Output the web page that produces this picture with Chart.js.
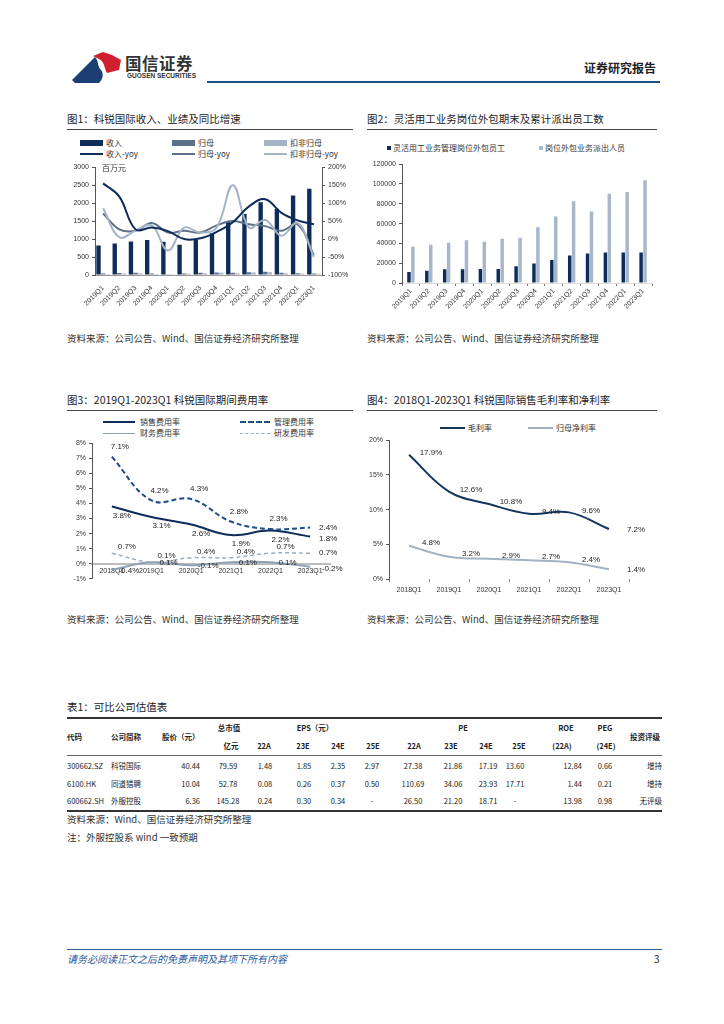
<!DOCTYPE html>
<html>
<head>
<meta charset="utf-8">
<script src="https://cdn.jsdelivr.net/npm/chart.js@4.4.1/dist/chart.umd.min.js"></script>
<style>
  body { margin: 0; width: 724px; height: 1024px; position: relative; background: #fff; overflow: hidden;
         font-family: "Noto Sans CJK SC", "Liberation Sans", sans-serif; color: #222; }
  .t { position: absolute; white-space: nowrap; line-height: 12px; }
  .title { font-size: 10.5px; }
  .src { font-size: 9.5px; color: #333; }
  .lg { font-size: 8px; color: #333; }
  .rule { position: absolute; height: 1px; background: #444; }
  .sw { position: absolute; }
  canvas { position: absolute; }
  .cell { position: absolute; width: 100px; line-height: 12px; font-size: 7.5px; white-space: nowrap; color: #222; }
  .hd { font-weight: bold; font-size: 7.5px; }
</style>
</head>
<body>

<!-- header -->
<svg class="sw" style="left:66px;top:48px" width="60" height="40" viewBox="66 48 60 40">
  <path d="M72,80 L95,57 C99,61 97,66 101,70 C104,74 103,79 99,83 L75,83 Z" fill="#1b3f73"/>
  <path d="M93,56 L103,52 L112,55 L121,60 L119,70 L107,73 C104,68 105,62 99,59 Z" fill="#d0202e"/>
</svg>
<div class="t" style="left:125px;top:54px;font-size:16.5px;line-height:18px;font-weight:bold;color:#333;letter-spacing:0.5px">国信证券</div>
<div class="t" style="left:127px;top:72px;font-size:6.5px;line-height:8px;font-weight:bold;color:#333;font-family:'Liberation Sans',sans-serif">GUOSEN SECURITIES</div>
<div class="rule" style="left:207px;top:81px;width:453px;height:2px;background:#1f4e8c"></div>
<div class="t" style="left:584px;top:61px;font-size:12px;line-height:14px;font-weight:bold;color:#222">证券研究报告</div>

<!-- chart 1 -->
<div class="t title" style="left:67px;top:113px">图1：科锐国际收入、业绩及同比增速</div>
<div class="rule" style="left:67px;top:129px;width:286px"></div>
<div class="sw" style="left:80px;top:140px;width:23px;height:6px;background:#0d2c5a"></div>
<div class="t lg" style="left:106px;top:137px">收入</div>
<div class="sw" style="left:172px;top:140px;width:23px;height:6px;background:#5c7089"></div>
<div class="t lg" style="left:198px;top:137px">归母</div>
<div class="sw" style="left:264px;top:140px;width:23px;height:6px;background:#a4b4c6"></div>
<div class="t lg" style="left:290px;top:137px">扣非归母</div>
<div class="sw" style="left:80px;top:153px;width:23px;height:2px;background:#0d2c5a"></div>
<div class="t lg" style="left:106px;top:148px">收入-yoy</div>
<div class="sw" style="left:172px;top:153px;width:23px;height:2px;background:#5c7089"></div>
<div class="t lg" style="left:198px;top:148px">归母-yoy</div>
<div class="sw" style="left:264px;top:153px;width:23px;height:2px;background:#a4b4c6"></div>
<div class="t lg" style="left:290px;top:148px">扣非归母-yoy</div>
<canvas id="c1" width="300" height="150" style="left:60px;top:160px"></canvas>
<div class="t lg" style="left:102px;top:162px">百万元</div>
<div class="t src" style="left:67px;top:332px">资料来源：公司公告、Wind、国信证券经济研究所整理</div>

<!-- chart 2 -->
<div class="t title" style="left:367px;top:113px">图2：灵活用工业务岗位外包期末及累计派出员工数</div>
<div class="rule" style="left:367px;top:129px;width:290px"></div>
<div class="sw" style="left:387px;top:146px;width:4px;height:4px;background:#0d2c5a"></div>
<div class="t lg" style="left:393px;top:142px">灵活用工业务管理岗位外包员工</div>
<div class="sw" style="left:539px;top:146px;width:4px;height:4px;background:#a7b6c8"></div>
<div class="t lg" style="left:545px;top:142px">岗位外包业务派出人员</div>
<canvas id="c2" width="310" height="160" style="left:360px;top:157px"></canvas>
<div class="t src" style="left:367px;top:332px">资料来源：公司公告、Wind、国信证券经济研究所整理</div>

<!-- chart 3 -->
<div class="t title" style="left:67px;top:394px">图3：2019Q1-2023Q1 科锐国际期间费用率</div>
<div class="rule" style="left:67px;top:410px;width:286px"></div>
<div class="sw" style="left:103px;top:421px;width:32px;height:2px;background:#0d2c5a"></div>
<div class="t lg" style="left:140px;top:416px">销售费用率</div>
<div class="sw" style="left:240px;top:421px;width:30px;height:0;border-top:2px dashed #1f4a8c"></div>
<div class="t lg" style="left:274px;top:416px">管理费用率</div>
<div class="sw" style="left:103px;top:433px;width:32px;height:1px;background:#8ea0b5"></div>
<div class="t lg" style="left:140px;top:427px">财务费用率</div>
<div class="sw" style="left:240px;top:433px;width:30px;height:0;border-top:1px dashed #9aabc0"></div>
<div class="t lg" style="left:274px;top:427px">研发费用率</div>
<canvas id="c3" width="300" height="150" style="left:60px;top:436px"></canvas>
<div class="t src" style="left:67px;top:613px">资料来源：公司公告、Wind、国信证券经济研究所整理</div>

<!-- chart 4 -->
<div class="t title" style="left:367px;top:394px">图4：2018Q1-2023Q1 科锐国际销售毛利率和净利率</div>
<div class="rule" style="left:367px;top:410px;width:290px"></div>
<div class="sw" style="left:440px;top:427px;width:25px;height:2px;background:#14365f"></div>
<div class="t lg" style="left:468px;top:422px">毛利率</div>
<div class="sw" style="left:528px;top:427px;width:25px;height:2px;background:#a3b2c2"></div>
<div class="t lg" style="left:556px;top:422px">归母净利率</div>
<canvas id="c4" width="310" height="165" style="left:360px;top:433px"></canvas>
<div class="t src" style="left:367px;top:613px">资料来源：公司公告、Wind、国信证券经济研究所整理</div>

<!-- table -->
<div class="t" style="left:67px;top:701px;font-size:10.5px">表1：可比公司估值表</div>
<div class="rule" style="left:67px;top:717px;width:595px;height:1.5px;background:#333"></div>
<div class="rule" style="left:67px;top:755px;width:595px;background:#666"></div>
<div class="rule" style="left:67px;top:810px;width:595px;height:1.5px;background:#333"></div>
<div id="table"></div>
<div class="t src" style="left:67px;top:813px">资料来源：Wind、国信证券经济研究所整理</div>
<div class="t src" style="left:67px;top:831px">注：外服控股系 wind 一致预期</div>

<!-- footer -->
<div class="rule" style="left:67px;top:949px;width:595px;background:#2e5e95"></div>
<div class="t" style="left:67px;top:953px;font-size:10px;font-style:italic;color:#2a5a9a">请务必阅读正文之后的免责声明及其项下所有内容</div>
<div class="t" style="left:654px;top:953px;font-size:10px;color:#222">3</div>

<script>
// ---- chart 1 data ----
const quarters = ['2019Q1', '2019Q2', '2019Q3', '2019Q4', '2020Q1', '2020Q2', '2020Q3', '2020Q4',
                  '2021Q1', '2021Q2', '2021Q3', '2021Q4', '2022Q1', '2023Q1'];
const revenue = [820, 880, 935, 975, 925, 845, 975, 1165, 1475, 1700, 2025, 1845, 2210, 2400];
const netProfit = [40, 55, 60, 40, 20, 45, 60, 70, 60, 80, 90, 60, 50, 40];
const netProfitAdj = [30, 45, 50, 30, 10, 35, 50, 60, 50, 70, 80, 50, 45, 35];
const revenueYoy = [155, 118, 27, 32, 22, 0, 2, 20, 47, 91, 111, 73, 52, 41];
const netProfitYoy = [71, 27, 23, 45, 18, 23, 18, 38, 50, 41, 36, 23, 41, -45];
const netProfitAdjYoy = [86, 5, 23, 38, -32, 32, 18, 32, 150, 32, 53, 9, 45, -50];

// ---- chart 2 data ----
const mgmtStaff = [11000, 12500, 13800, 13800, 14100, 14100, 17000, 19700, 23300, 27900, 29800, 30800, 30800, 30800];
const dispatched = [36700, 38700, 40700, 43300, 41600, 44600, 45600, 56400, 67200, 82600, 72100, 90200, 91800, 103900];

// ---- chart 3 / 4 data ----
const years = ['2018Q1', '2019Q1', '2020Q1', '2021Q1', '2022Q1', '2023Q1'];
const salesRate = [3.8, 3.1, 2.6, 1.9, 2.2, 1.8];
const adminRate = [7.1, 4.2, 4.3, 2.8, 2.3, 2.4];
const financeRate = [-0.4, 0.1, -0.1, 0.1, 0.1, -0.2];
const rdRate = [0.7, 0.1, 0.4, 0.4, 0.7, 0.7];
const grossMargin = [17.9, 12.6, 10.8, 9.4, 9.6, 7.2];
const netMargin = [4.8, 3.2, 2.9, 2.7, 2.4, 1.4];

const NAVY = '#0d2c5a', MID = '#5c7089', LIGHT = '#a4b4c6';

Chart.defaults.font.family = '"Liberation Sans", "Noto Sans CJK SC", sans-serif';
Chart.defaults.font.size = 7;
Chart.defaults.color = '#333';
Chart.defaults.animation = false;
Chart.defaults.plugins.legend.display = false;
Chart.defaults.plugins.tooltip.enabled = false;

// draws "x.x%" next to each point; the last point gets its own offset (label sits to the right)
const valueLabels = {
    id: 'valueLabels',
    afterDatasetsDraw(chart) {
        const ctx = chart.ctx;
        chart.data.datasets.forEach((ds, i) => {
            if (!ds.showValues) return;
            const meta = chart.getDatasetMeta(i);
            ctx.save();
            ctx.font = '8px "Liberation Sans", sans-serif';
            ctx.fillStyle = '#222';
            ctx.textAlign = 'center';
            ctx.textBaseline = 'middle';
            meta.data.forEach((pt, j) => {
                const last = j === meta.data.length - 1;
                const dx = last && ds.lastDx !== undefined ? ds.lastDx : ds.valueDx;
                const dy = last && ds.lastDy !== undefined ? ds.lastDy : ds.valueDy;
                ctx.fillText(ds.data[j].toFixed(1) + '%', pt.x + dx, pt.y + dy);
            });
            ctx.restore();
        });
    }
};

const axisGrid = { drawOnChartArea: false, drawTicks: true, tickLength: 3, color: '#555' };

new Chart(document.getElementById('c1'), {
    type: 'bar',
    data: {
        labels: quarters,
        datasets: [
            { label: '收入', data: revenue, backgroundColor: NAVY, yAxisID: 'y', order: 2 },
            { label: '归母', data: netProfit, backgroundColor: MID, yAxisID: 'y', order: 2 },
            { label: '扣非归母', data: netProfitAdj, backgroundColor: LIGHT, yAxisID: 'y', order: 2 },
            { type: 'line', label: '扣非归母-yoy', data: netProfitAdjYoy, yAxisID: 'y1', borderColor: LIGHT,
              borderWidth: 2, pointRadius: 0, tension: 0.4, order: 1 },
            { type: 'line', label: '归母-yoy', data: netProfitYoy, yAxisID: 'y1', borderColor: MID,
              borderWidth: 2, pointRadius: 0, tension: 0.4, order: 1 },
            { type: 'line', label: '收入-yoy', data: revenueYoy, yAxisID: 'y1', borderColor: NAVY,
              borderWidth: 2, pointRadius: 0, tension: 0.4, order: 0 }
        ]
    },
    options: {
        responsive: false,
        layout: { padding: { top: 5 } },
        datasets: { bar: { categoryPercentage: 0.85, barPercentage: 0.95 } },
        scales: {
            x: {
                grid: { display: false },
                border: { color: '#999' },
                ticks: { minRotation: 45, maxRotation: 45, autoSkip: false, padding: 1 },
                afterFit(s) { s.height = 35; }
            },
            y: {
                position: 'left', min: 0, max: 3000,
                ticks: { stepSize: 500, padding: 3, callback: v => String(v) },
                grid: axisGrid, border: { color: '#555' },
                afterFit(s) { s.width = 35; }
            },
            y1: {
                position: 'right', min: -100, max: 200,
                ticks: { stepSize: 50, padding: 3, callback: v => v + '%' },
                grid: axisGrid, border: { color: '#555' },
                afterFit(s) { s.width = 38; }
            }
        }
    }
});

new Chart(document.getElementById('c2'), {
    type: 'bar',
    data: {
        labels: quarters,
        datasets: [
            { label: '灵活用工业务管理岗位外包员工', data: mgmtStaff, backgroundColor: NAVY },
            { label: '岗位外包业务派出人员', data: dispatched, backgroundColor: '#a7b6c8' }
        ]
    },
    options: {
        responsive: false,
        layout: { padding: { top: 5, right: 18 } },
        datasets: { bar: { categoryPercentage: 0.44, barPercentage: 0.88 } },
        scales: {
            x: {
                grid: { drawOnChartArea: false, drawTicks: true, tickLength: 3, color: '#777', offset: true },
                border: { color: '#ddd' },
                ticks: { minRotation: 45, maxRotation: 45, autoSkip: false, padding: 1 },
                afterFit(s) { s.height = 34; }
            },
            y: {
                min: 0, max: 120000,
                ticks: { stepSize: 20000, padding: 3, callback: v => String(v) },
                grid: axisGrid, border: { color: '#555' },
                afterFit(s) { s.width = 42; }
            }
        }
    }
});

new Chart(document.getElementById('c3'), {
    type: 'line',
    data: {
        labels: years,
        datasets: [
            { label: '研发费用率', data: rdRate, borderColor: '#9aabc0', borderWidth: 1.5, borderDash: [4, 3],
              showValues: true, valueDx: 15, valueDy: -6, lastDx: 18, lastDy: 0 },
            { label: '财务费用率', data: financeRate, borderColor: '#8ea0b5', borderWidth: 2,
              showValues: true, valueDx: 17, valueDy: 1, lastDx: 22, lastDy: 2 },
            { label: '管理费用率', data: adminRate, borderColor: '#1f4a8c', borderWidth: 2, borderDash: [5, 3],
              showValues: true, valueDx: 8, valueDy: -10, lastDx: 18, lastDy: 0 },
            { label: '销售费用率', data: salesRate, borderColor: NAVY, borderWidth: 2,
              showValues: true, valueDx: 10, valueDy: 9, lastDx: 18, lastDy: 2 }
        ]
    },
    options: {
        responsive: false,
        layout: { padding: { top: 5, right: 30, bottom: 7 } },
        elements: { point: { radius: 0 }, line: { tension: 0.4 } },
        scales: {
            x: {
                position: { y: 0 }, offset: true,
                grid: { display: false, drawTicks: false },
                border: { color: '#bdbdbd', width: 2 },
                ticks: { padding: 3, maxRotation: 0, autoSkip: false },
                afterFit(s) { s.height = 0; }
            },
            y: {
                min: -1, max: 8,
                ticks: { stepSize: 1, padding: 3, callback: v => v + '%' },
                grid: axisGrid, border: { color: '#555' },
                afterFit(s) { s.width = 32; }
            }
        }
    },
    plugins: [valueLabels]
});

new Chart(document.getElementById('c4'), {
    type: 'line',
    data: {
        labels: years,
        datasets: [
            { label: '归母净利率', data: netMargin, borderColor: '#a3b2c2', borderWidth: 2,
              showValues: true, valueDx: 22, valueDy: -3, lastDx: 27, lastDy: 1 },
            { label: '毛利率', data: grossMargin, borderColor: '#14365f', borderWidth: 2,
              showValues: true, valueDx: 22, valueDy: -2, lastDx: 27, lastDy: 1 }
        ]
    },
    options: {
        responsive: false,
        layout: { padding: { top: 5, right: 41 } },
        elements: { point: { radius: 0 }, line: { tension: 0.4 } },
        scales: {
            x: {
                offset: true,
                grid: { drawOnChartArea: false, drawTicks: true, tickLength: 3, color: '#888', offset: true },
                border: { display: false },
                ticks: { padding: 4, maxRotation: 0, autoSkip: false },
                afterFit(s) { s.height = 19; }
            },
            y: {
                min: 0, max: 20,
                ticks: { stepSize: 5, padding: 3, callback: v => v + '%' },
                grid: axisGrid, border: { color: '#555' },
                afterFit(s) { s.width = 29; }
            }
        }
    },
    plugins: [valueLabels]
});

// ---- valuation table ----
const headCells = [
    ['代码', 67, 'left', 737], ['公司简称', 111, 'left', 737], ['股价（元）', 162, 'left', 737],
    ['总市值', 229, 'center', 728], ['亿元', 231, 'center', 746],
    ['EPS（元）', 315, 'center', 728], ['22A', 264, 'center', 746], ['23E', 303, 'center', 746],
    ['24E', 338, 'center', 746], ['25E', 373, 'center', 746],
    ['PE', 463, 'center', 728], ['22A', 414, 'center', 746], ['23E', 451, 'center', 746],
    ['24E', 486, 'center', 746], ['25E', 519, 'center', 746],
    ['ROE', 566, 'center', 728], ['(22A)', 562, 'center', 746],
    ['PEG', 605, 'center', 728], ['(24E)', 606, 'center', 746],
    ['投资评级', 645, 'center', 737]
];
const colAnchors = [[67, 'left'], [111, 'left'], [200, 'right'], [228, 'center'], [265, 'center'],
                    [304, 'center'], [338, 'center'], [372, 'center'], [413, 'center'], [453, 'center'],
                    [488, 'center'], [515, 'center'], [582, 'right'], [605, 'center'], [662, 'right']];
const tableRows = [
    ['300662.SZ', '科锐国际', '40.44', '79.59', '1.48', '1.85', '2.35', '2.97', '27.38', '21.86', '17.19', '13.60', '12.84', '0.66', '增持'],
    ['6100.HK', '同道猎聘', '10.04', '52.78', '0.08', '0.26', '0.37', '0.50', '110.69', '34.06', '23.93', '17.71', '1.44', '0.21', '增持'],
    ['600662.SH', '外服控股', '6.36', '145.28', '0.24', '0.30', '0.34', '-', '26.50', '21.20', '18.71', '-', '13.98', '0.98', '无评级']
];
const rowY = [766, 784, 801];

const table = document.getElementById('table');
function putCell(text, x, align, y, cls) {
    const d = document.createElement('div');
    d.className = 'cell' + (cls ? ' ' + cls : '');
    const left = align === 'left' ? x : align === 'right' ? x - 100 : x - 50;
    d.style.left = left + 'px';
    d.style.top = (y - 6) + 'px';
    d.style.textAlign = align;
    d.textContent = text;
    table.appendChild(d);
}
headCells.forEach(h => putCell(h[0], h[1], h[2], h[3], 'hd'));
tableRows.forEach((row, r) => {
    row.forEach((text, c) => putCell(text, colAnchors[c][0], colAnchors[c][1], rowY[r]));
});
</script>
</body>
</html>
